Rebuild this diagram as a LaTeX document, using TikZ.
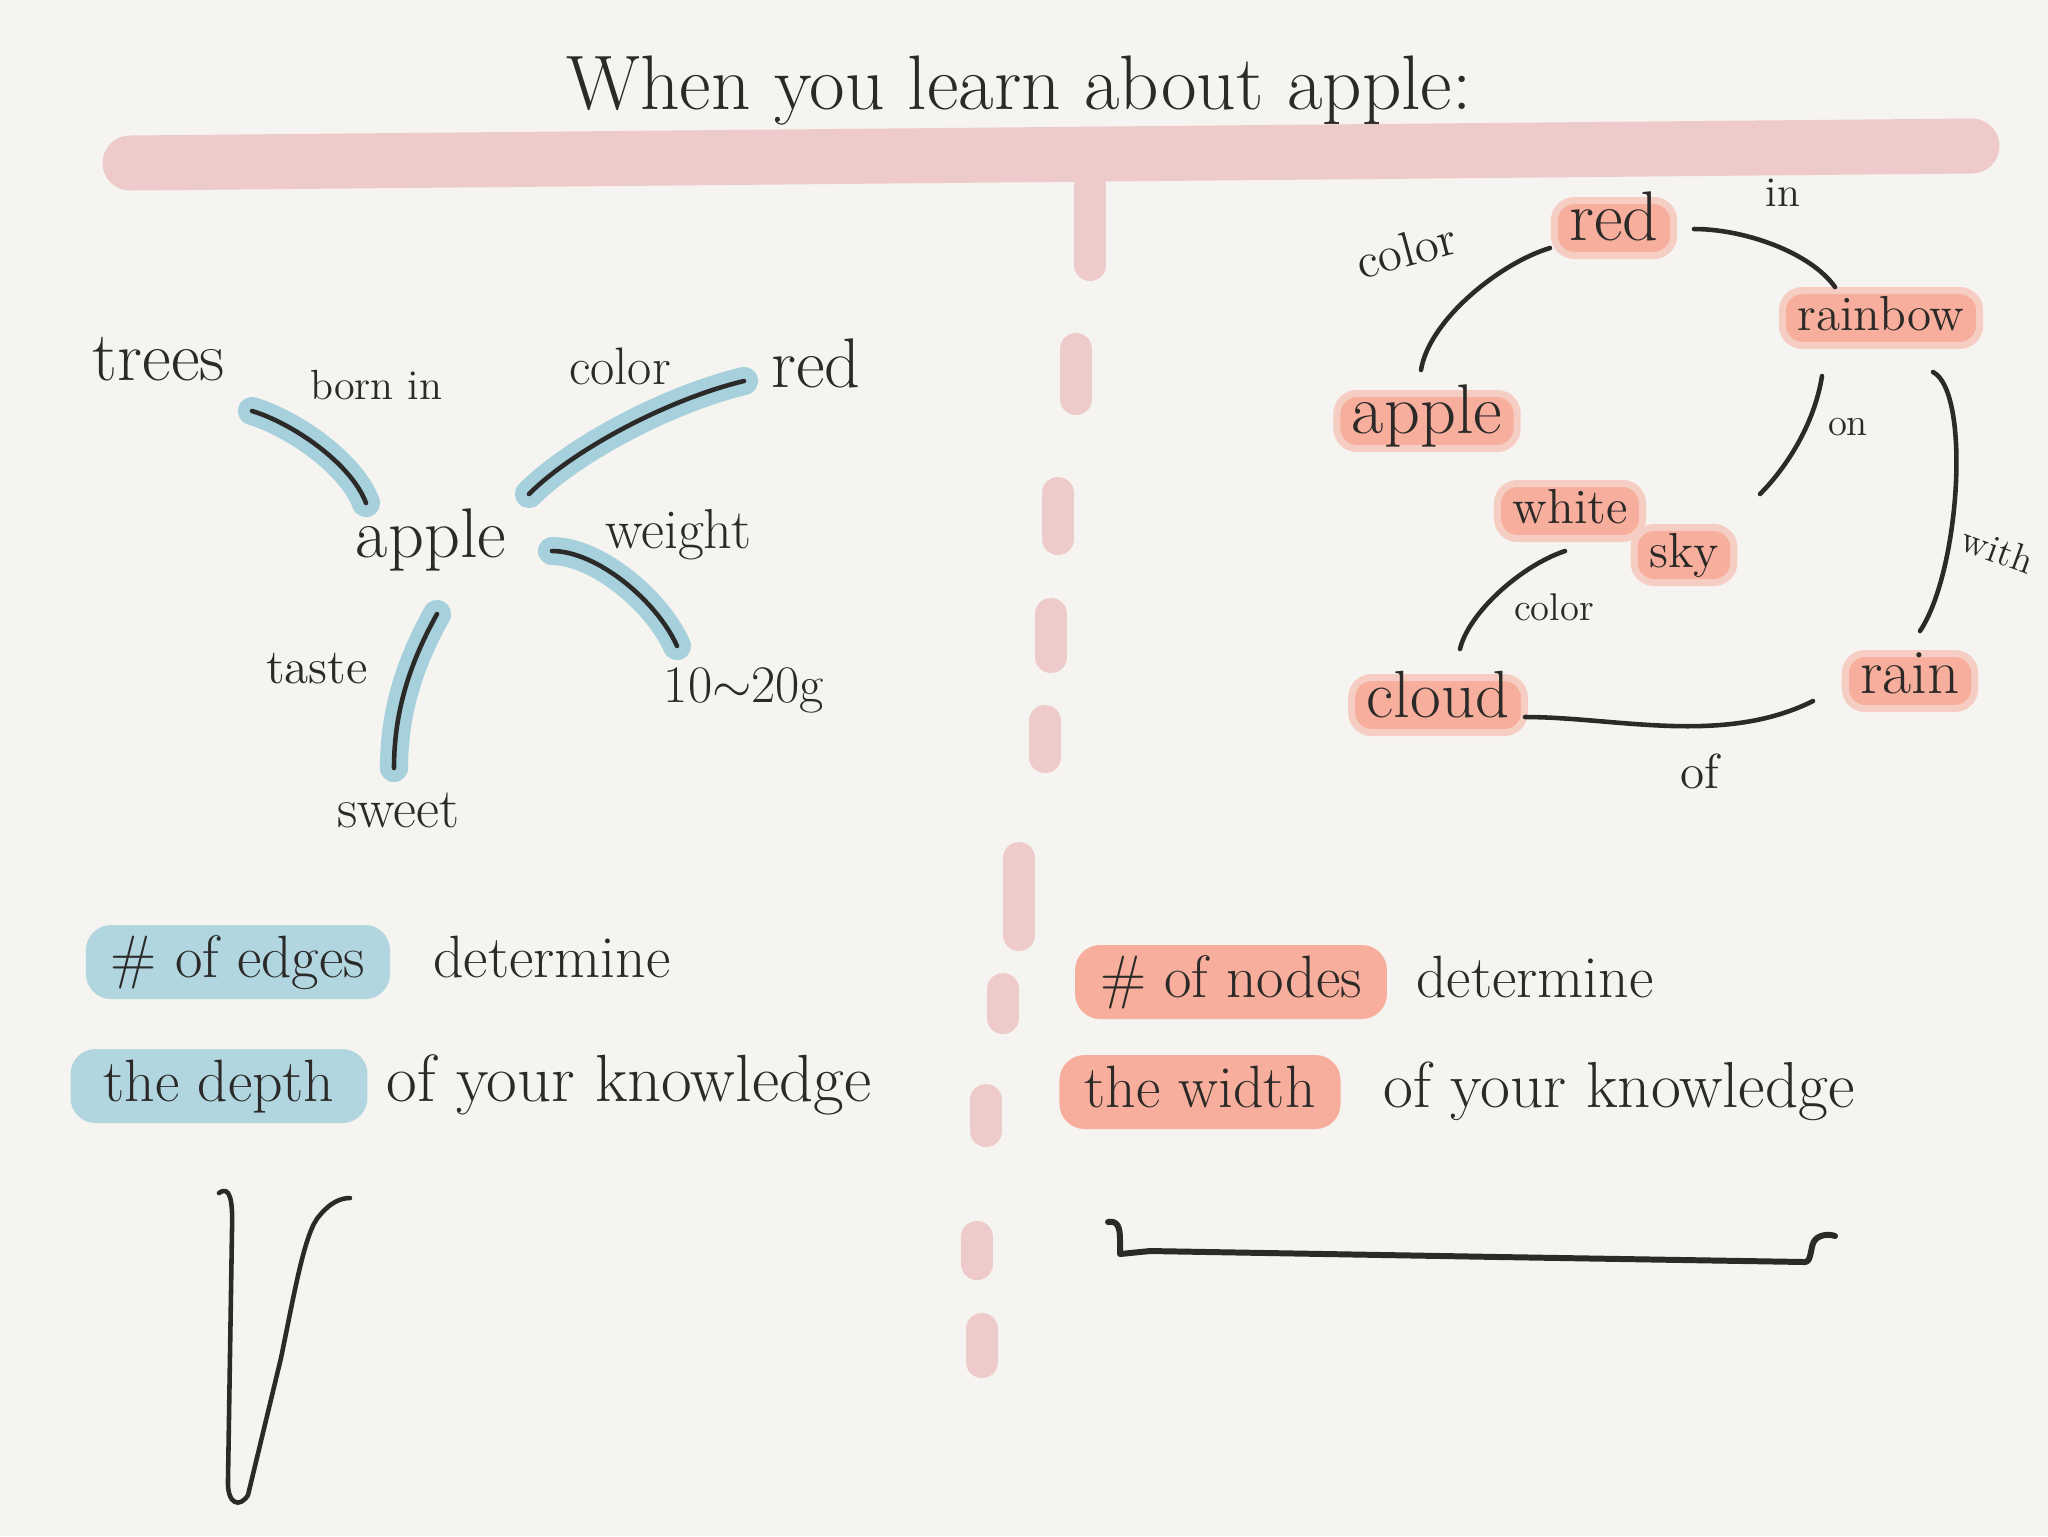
\documentclass[tikz,border=0pt]{standalone}
\usepackage{xcolor}
\usepackage{tikz}
\definecolor{paper}{HTML}{F5F4F0}
\definecolor{ink}{HTML}{2B2A28}
\definecolor{bandpink}{HTML}{EECACA}
\definecolor{glowblue}{HTML}{A5D0DC}
\definecolor{softblue}{HTML}{B2D6E0}
\definecolor{softred}{HTML}{F7AE9C}

\begin{document}
\begin{tikzpicture}[x=0.1mm, y=-0.1mm,
    txt/.style={inner sep=0pt, text=ink},
    sz/.style={txt, font=\fontsize{#1}{#1}\selectfont},
    link/.style={draw=ink, line width=1.3pt, line cap=round, line join=round},
    blink/.style={link, preaction={draw=glowblue, line width=8pt, line cap=round}},
    hl/.style={txt, fill=softred, draw=softred!55!paper, line width=2pt, rounded corners=2mm,
      inner xsep=1.5mm, text height=4mm, text depth=1.5mm},
    row/.style={txt, font=\fontsize{17}{17}\selectfont, inner xsep=2.5mm,
      text height=5.2mm, text depth=2.2mm, rounded corners=2.5mm},
    pinkdash/.style={draw=bandpink, line width=3.2mm, line cap=round}]
    \fill[paper] (0,0) rectangle (2048,1536);
    % title and the pink strokes
    \draw[bandpink, line width=5.5mm, line cap=round] (130,163) -- (1972,146);
    \foreach \x/\ya/\yb in {1090/186/265, 1076/349/399, 1058/493/539, 1051/614/657,
        1045/721/757, 1019/858/935, 1003/989/1018, 986/1100/1131, 977/1237/1264, 982/1329/1362}
      \draw[pinkdash] (\x,\ya) -- (\x,\yb);
    \node[sz=22] (title) at (1019,91) {When you learn about apple:};

    % depth: one apple, many links
    \node[sz=20] (trees) at (159,359) {trees};
    \node[sz=20] (apple) at (431,540) {apple};
    \node[sz=20] (red) at (816,363) {red};
    \node[sz=15] (wgt) at (744,690) {10$\sim$20g};
    \node[sz=16] (sweet) at (398,810) {sweet};
    \node[sz=12] (lborn) at (376,385) {born in};
    \node[sz=15] (lcolor) at (620,366) {color};
    \node[sz=16] (lweight) at (678,535) {weight};
    \node[sz=14] (ltaste) at (317,669) {taste};
    \draw[blink] ([shift={(93,52)}]trees.center) .. controls +(40,12) and +(-15,-40) .. ([shift={(-65,-37)}]apple.center);
    \draw[blink] ([shift={(98,-46)}]apple.center) .. controls +(45,-45) and +(-75,18) .. ([shift={(-72,18)}]red.center);
    \draw[blink] ([shift={(121,11)}]apple.center) .. controls +(45,0) and +(-20,-45) .. ([shift={(-67,-44)}]wgt.center);
    \draw[blink] ([shift={(6,74)}]apple.center) .. controls +(-25,45) and +(0,-60) .. ([shift={(-4,-42)}]sweet.center);

    % width: many nodes
    \node[hl, font=\fontsize{20}{20}\selectfont] (rred) at (1614,228) {red};
    \node[hl, font=\fontsize{14}{14}\selectfont] (rainbow) at (1881,318) {rainbow};
    \node[hl, font=\fontsize{20}{20}\selectfont] (rapple) at (1427,421) {apple};
    \node[hl, font=\fontsize{14}{14}\selectfont] (white) at (1570,511) {white};
    \node[hl, font=\fontsize{14}{14}\selectfont] (sky) at (1684,555) {sky};
    \node[hl, font=\fontsize{19}{19}\selectfont] (cloud) at (1438,705) {cloud};
    \node[hl, font=\fontsize{18}{18}\selectfont] (rain) at (1910,681) {rain};
    \node[sz=14, rotate=15] (lrcolor) at (1406,250) {color};
    \node[sz=12] (lin) at (1783,193) {in};
    \node[sz=11] (lon) at (1848,427) {on};
    \node[sz=11, rotate=-20] (lwith) at (1998,550) {with};
    \node[sz=11] (lwcolor) at (1554,607) {color};
    \node[sz=14] (lof) at (1700,771) {of};
    \draw[link] ([shift={(-6,-51)}]rapple.center) .. controls +(8,-50) and +(-50,15) .. ([shift={(-64,20)}]rred.center);
    \draw[link] ([shift={(80,1)}]rred.center) .. controls +(50,0) and +(-25,-35) .. ([shift={(-46,-31)}]rainbow.center);
    \draw[link] ([shift={(-59,58)}]rainbow.center) .. controls +(-8,50) and +(25,-25) .. ([shift={(76,-61)}]sky.center);
    \draw[link] ([shift={(52,54)}]rainbow.center) .. controls +(38,20) and +(40,-60) .. ([shift={(10,-50)}]rain.center);
    \draw[link] ([shift={(-5,40)}]white.center) .. controls +(-45,15) and +(8,-35) .. ([shift={(22,-56)}]cloud.center);
    \draw[link] ([shift={(87,12)}]cloud.center) .. controls +(90,0) and +(-90,45) .. ([shift={(-97,20)}]rain.center);

    % bottom lines
    \node[row, fill=softblue] (edges) at (238,962) {\# of edges};
    \node[row] (detA) at (552,962) {determine};
    \node[row, fill=softblue, inner xsep=3.3mm] (depth) at (219,1086) {the depth};
    \node[row, font=\fontsize{19}{19}\selectfont] (knowA) at (629,1086) {of your knowledge};
    \node[row, fill=softred] (nodes) at (1231,982) {\# of nodes};
    \node[row] (detB) at (1535,982) {determine};
    \node[row, fill=softred] (width) at (1200,1092) {the width};
    \node[row, font=\fontsize{18.5}{18.5}\selectfont] (knowB) at (1619,1092) {of your knowledge};
    \draw[link] (219,1193) .. controls (230,1185) and (233,1200) .. (232,1230) -- (228,1480)
      .. controls (227,1505) and (240,1508) .. (248,1495) -- (281,1358)
      .. controls (295,1290) and (305,1230) .. (320,1215) .. controls (330,1203) and (340,1198) .. (350,1198);
    \draw[link, line width=1.7pt] (1108,1222) .. controls (1118,1220) and (1120,1228) .. (1120,1240) -- (1120,1254)
      -- (1150,1251) -- (1500,1257) -- (1805,1262) .. controls (1812,1262) and (1810,1245) .. (1815,1240)
      .. controls (1820,1234) and (1830,1234) .. (1835,1236);
\end{tikzpicture}
\end{document}
